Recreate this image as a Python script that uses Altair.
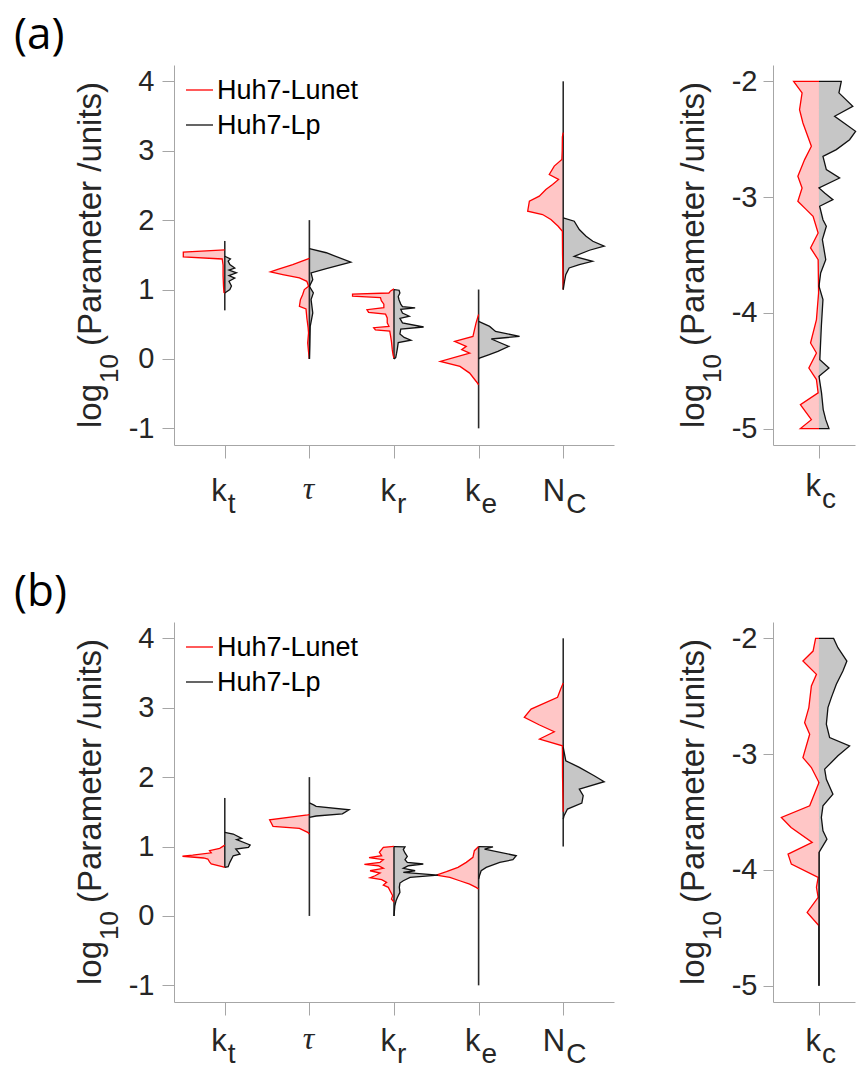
import altair as alt
import pandas as pd

# ---------------- data ----------------
PARAMS = ["kt", "tau", "kr", "ke", "NC"]
PARAM_POS = [1, 2, 3, 4, 5]
LABEL_MAIN = ["k", "τ", "k", "k", "N"]
LABEL_SUB = ["t", "", "r", "e", "C"]
STEM_LO = [0.7, 0.0, 0.0, -1.0, 1.0]
STEM_HI = [1.7, 2.0, 1.0, 1.0, 4.0]
KC_STEM = [-5.0, -2.0]
SERIES = ["Huh7-Lunet", "Huh7-Lp"]
Y_TICKS_MAIN = [-1, 0, 1, 2, 3, 4]
Y_TICKS_KC = [-5, -4, -3, -2]
PANEL_TAGS = ["(a)", "(b)"]
TITLE_PARTS = ["log", "10", "(Parameter /units)"]

# (log10 value, half-width) pairs, panel (a)
a_kt_lunet = [(1.57, 0), (1.54, 0.49), (1.47, 0.49), (1.44, 0.03), (1.35, 0.02), (1.2, 0.02),
              (1.05, 0.015), (0.96, 0.01), (0.95, 0)]
a_kt_lp = [(1.48, 0), (1.44, 0.067), (1.41, 0.04), (1.36, 0.06), (1.31, 0.118), (1.28, 0.05),
           (1.24, 0.138), (1.2, 0.05), (1.165, 0.118), (1.12, 0.05), (1.05, 0.079), (1.0, 0.06),
           (0.95, 0)]
a_tau_lunet = [(1.45, 0), (1.36, 0.197), (1.29, 0.374), (1.254, 0.46), (1.215, 0.315),
               (1.167, 0.118), (1.118, 0.03), (1.046, 0.01), (1.0, 0.06), (0.926, 0.08),
               (0.854, 0.106), (0.758, 0.118), (0.72, 0.04), (0.59, 0.03), (0.45, 0.015),
               (0.374, 0.01), (0.23, 0.02), (0.1, 0.01), (0.0, 0)]
a_tau_lp = [(1.59, 0), (1.53, 0.2), (1.393, 0.49), (1.30, 0.2), (1.239, 0.02), (1.143, 0.04),
            (1.046, 0.0), (0.951, 0.047), (0.854, 0.02), (0.662, 0.04), (0.47, 0.01),
            (0.2, 0.005), (0.0, 0)]
a_kr_lunet = [(1.009, 0), (0.98, 0.04), (0.95, 0.06), (0.935, 0.49), (0.905, 0.49), (0.885, 0.16),
              (0.84, 0.15), (0.79, 0.12), (0.74, 0.12), (0.71, 0.32), (0.67, 0.30), (0.645, 0.10),
              (0.59, 0.08), (0.52, 0.08), (0.47, 0.06), (0.45, 0.24), (0.42, 0.22), (0.40, 0.05),
              (0.33, 0.04), (0.25, 0.03), (0.13, 0.02), (0.05, 0.01), (0.013, 0)]
a_kr_lp = [(1.0, 0), (0.99, 0.06), (0.95, 0.07), (0.90, 0.05), (0.85, 0.06), (0.79, 0.08),
           (0.755, 0.10), (0.735, 0.25), (0.715, 0.08), (0.66, 0.10), (0.615, 0.18), (0.585, 0.07),
           (0.52, 0.10), (0.46, 0.35), (0.43, 0.08), (0.36, 0.07), (0.31, 0.12), (0.27, 0.20),
           (0.235, 0.05), (0.15, 0.04), (0.08, 0.03), (0.02, 0.02), (0.0, 0)]
a_ke_lunet = [(0.64, 0), (0.52, 0.03), (0.325, 0.067), (0.253, 0.283), (0.181, 0.146),
              (0.133, 0.2), (0.085, 0.106), (-0.036, 0.453), (-0.108, 0.22), (-0.204, 0.106),
              (-0.325, 0.028), (-0.372, 0)]
a_ke_lp = [(0.541, 0), (0.469, 0.13), (0.397, 0.2), (0.325, 0.484), (0.287, 0.15), (0.181, 0.358),
           (0.108, 0.228), (0.06, 0.118), (0.012, 0.01), (0.0, 0)]
a_nc_lunet = [(3.26, 0), (3.2, 0.01), (3.0, 0.012), (2.874, 0.016), (2.778, 0.106), (2.658, 0.165),
              (2.586, 0.055), (2.514, 0.126), (2.442, 0.205), (2.345, 0.283), (2.273, 0.40),
              (2.128, 0.42), (2.081, 0.244), (2.009, 0.146), (1.912, 0.06), (1.84, 0.01),
              (1.5, 0.008), (1.0, 0)]
a_nc_lp = [(2.033, 0), (1.984, 0.13), (1.864, 0.19), (1.768, 0.27), (1.696, 0.35), (1.624, 0.484),
           (1.566, 0.31), (1.479, 0.13), (1.407, 0.346), (1.359, 0.19), (1.311, 0.07),
           (1.215, 0.03), (1.118, 0.015), (1.0, 0)]
a_kc_lunet = [(-2.0, 0), (-2.001, 0.30), (-2.1, 0.2), (-2.245, 0.23), (-2.36, 0.19), (-2.561, 0.09),
              (-2.676, 0.17), (-2.82, 0.25), (-2.921, 0.2), (-3.036, 0.25), (-3.108, 0.15),
              (-3.166, 0.07), (-3.31, 0.01), (-3.439, 0.1), (-3.54, 0.01), (-3.828, 0.005),
              (-4.058, 0.03), (-4.26, 0.1), (-4.346, 0.03), (-4.476, 0.12), (-4.576, 0.03),
              (-4.691, 0.01), (-4.792, 0.22), (-4.922, 0.09), (-4.999, 0.22), (-5.0, 0)]
a_kc_lp = [(-2.0, 0), (-2.001, 0.264), (-2.1, 0.236), (-2.216, 0.4), (-2.302, 0.185),
           (-2.432, 0.433), (-2.504, 0.362), (-2.59, 0.205), (-2.648, 0.047), (-2.763, 0.087),
           (-2.835, 0.244), (-2.921, 0.0), (-2.964, 0.067), (-3.022, 0.165), (-3.079, 0.008),
           (-3.195, 0.047), (-3.252, 0.087), (-3.367, 0.04), (-3.54, 0.08), (-3.655, 0.02),
           (-3.77, 0.0), (-3.885, 0.047), (-4.116, 0.028), (-4.404, 0.01), (-4.476, 0.118),
           (-4.547, 0.0), (-4.691, 0.03), (-4.835, 0.05), (-4.922, 0.08), (-4.999, 0.118),
           (-5.0, 0)]

# panel (b)
b_kt_lunet = [(1.02, 0), (0.974, 0.06), (0.94, 0.18), (0.91, 0.16), (0.875, 0.38), (0.86, 0.5),
              (0.835, 0.25), (0.82, 0.2), (0.78, 0.18), (0.75, 0.16), (0.71, 0.03), (0.70, 0)]
b_kt_lp = [(1.205, 0), (1.18, 0.1), (1.118, 0.2), (1.098, 0.14), (1.022, 0.3), (0.988, 0.28),
           (0.964, 0.13), (0.892, 0.18), (0.867, 0.1), (0.772, 0.06), (0.71, 0.04), (0.70, 0)]
b_tau_lunet = [(1.46, 0), (1.455, 0.02), (1.386, 0.47), (1.29, 0.43), (1.262, 0.118),
               (1.205, 0.02), (1.18, 0)]
b_tau_lp = [(1.63, 0), (1.60, 0.05), (1.58, 0.08), (1.53, 0.47), (1.47, 0.39), (1.44, 0.08),
            (1.42, 0)]
b_kr_lunet = [(1.003, 0.0), (0.988, 0.126), (0.916, 0.173), (0.867, 0.146), (0.839, 0.295),
              (0.81, 0.126), (0.772, 0.165), (0.744, 0.35), (0.723, 0.185), (0.686, 0.126),
              (0.651, 0.283), (0.618, 0.165), (0.579, 0.224), (0.55, 0.283), (0.522, 0.146),
              (0.484, 0.087), (0.445, 0.126), (0.412, 0.067), (0.363, 0.047), (0.291, 0.016),
              (0.244, 0.03), (0.2, 0.0)]
b_kr_lp = [(1.0, 0), (0.995, 0.13), (0.955, 0.11), (0.907, 0.13), (0.858, 0.157), (0.81, 0.13),
           (0.772, 0.157), (0.748, 0.346), (0.723, 0.17), (0.686, 0.11), (0.651, 0.25),
           (0.627, 0.11), (0.589, 0.52), (0.555, 0.19), (0.507, 0.11), (0.474, 0.07),
           (0.412, 0.063), (0.34, 0.07), (0.267, 0.04), (0.219, 0.024), (0.147, 0.01), (0.0, 0)]
b_ke_lunet = [(1.0, 0), (0.94, 0.05), (0.844, 0.067), (0.772, 0.146), (0.70, 0.244),
              (0.637, 0.38), (0.589, 0.5), (0.556, 0.34), (0.507, 0.224), (0.459, 0.106),
              (0.412, 0.03), (0.388, 0)]
b_ke_lp = [(1.0, 0), (0.995, 0.17), (0.964, 0.07), (0.867, 0.445), (0.81, 0.405), (0.772, 0.25),
           (0.70, 0.09), (0.651, 0.03), (0.579, 0.01), (0.53, 0)]
b_nc_lunet = [(3.356, 0), (3.27, 0.03), (3.15, 0.067), (2.981, 0.38), (2.862, 0.46),
              (2.751, 0.28), (2.654, 0.106), (2.549, 0.28), (2.452, 0.01), (2.0, 0.008),
              (1.5, 0)]
b_nc_lp = [(2.429, 0), (2.236, 0.03), (2.141, 0.19), (2.02, 0.366), (1.934, 0.484), (1.828, 0.19),
           (1.732, 0.236), (1.627, 0.22), (1.54, 0.05), (1.444, 0.01), (1.396, 0)]
b_kc_lunet = [(-2.0, 0), (-2.001, 0.04), (-2.11, 0.07), (-2.196, 0.19), (-2.311, 0.03),
              (-2.411, 0.09), (-2.598, 0.12), (-2.728, 0.17), (-2.828, 0.11), (-3.03, 0.19),
              (-3.116, 0.09), (-3.245, 0.0), (-3.447, 0.11), (-3.547, 0.445), (-3.634, 0.33),
              (-3.763, 0.08), (-3.864, 0.366), (-3.95, 0.327), (-4.065, 0.01), (-4.151, 0.03),
              (-4.238, 0.01), (-4.367, 0.14), (-4.482, 0.0)]
b_kc_lp = [(-2.0, 0), (-2.001, 0.173), (-2.081, 0.224), (-2.196, 0.33), (-2.282, 0.283),
           (-2.397, 0.205), (-2.512, 0.146), (-2.598, 0.106), (-2.742, 0.087), (-2.857, 0.126),
           (-2.929, 0.362), (-3.015, 0.224), (-3.13, 0.067), (-3.217, 0.087), (-3.346, 0.165),
           (-3.447, 0.047), (-3.547, 0.028), (-3.662, 0.047), (-3.734, 0.094), (-3.849, 0.0),
           (-5.0, 0)]

# ---------------- build tables ----------------
SHAPES = {
    ("a", "kt"): (a_kt_lunet, a_kt_lp), ("a", "tau"): (a_tau_lunet, a_tau_lp),
    ("a", "kr"): (a_kr_lunet, a_kr_lp), ("a", "ke"): (a_ke_lunet, a_ke_lp),
    ("a", "NC"): (a_nc_lunet, a_nc_lp), ("a", "kc"): (a_kc_lunet, a_kc_lp),
    ("b", "kt"): (b_kt_lunet, b_kt_lp), ("b", "tau"): (b_tau_lunet, b_tau_lp),
    ("b", "kr"): (b_kr_lunet, b_kr_lp), ("b", "ke"): (b_ke_lunet, b_ke_lp),
    ("b", "NC"): (b_nc_lunet, b_nc_lp), ("b", "kc"): (b_kc_lunet, b_kc_lp),
}
POS = dict(zip(PARAMS, PARAM_POS))
POS["kc"] = 1

recs = []
for (row, p), (red, grey) in SHAPES.items():
    for s, pts, sign in ((SERIES[0], red, -1), (SERIES[1], grey, 1)):
        for i, (v, w) in enumerate(pts):
            recs.append(dict(row=row, param=p, series=s, i=i, v=v,
                             c=POS[p], xe=POS[p] + sign * w))
shape_df = pd.DataFrame(recs)

stem_df = pd.DataFrame({"param": PARAMS + ["kc"], "pos": PARAM_POS + [1],
                        "lo": STEM_LO + [KC_STEM[0]], "hi": STEM_HI + [KC_STEM[1]]})
lab_df = pd.DataFrame({"param": PARAMS + ["kc"], "pos": PARAM_POS + [1],
                       "main": LABEL_MAIN + ["k"], "sub": LABEL_SUB + ["c"]})
title_df = pd.DataFrame({"part": TITLE_PARTS})
legend_df = pd.DataFrame({"label": SERIES})

RED_FILL, GREY_FILL = "#FFC6C6", "#C6C6C6"
RED_LINE, GREY_LINE = "#FF0000", "#111111"
AX_COL = "#A6A6A6"
TXT_COL = "#262626"
FONT = "Liberation Sans"
H = 380
W_MAIN, W_KC = 440, 82


def panel(row, main):
    params = PARAMS if main else ["kc"]
    width = W_MAIN if main else W_KC
    xdom = [0.4, 5.6] if main else [0.456, 1.426]
    ydom = [-1.24, 4.235] if main else [-5.141, -1.859]
    xs = alt.Scale(domain=xdom, nice=False, zero=False)
    ys = alt.Scale(domain=ydom, nice=False, zero=False)
    xax = alt.Axis(values=[POS[p] for p in params], labels=False, tickSize=13, title=None,
                   grid=False, domainColor=AX_COL, tickColor=AX_COL)
    yax = alt.Axis(values=Y_TICKS_MAIN if main else Y_TICKS_KC, tickSize=12 if main else 10,
                   labelPadding=8 if main else 6, labelExpr="'' + datum.value", title=None,
                   grid=False, domainColor=AX_COL, tickColor=AX_COL, labelFont=FONT,
                   labelFontSize=29, labelColor=TXT_COL)
    sd = shape_df[(shape_df.row == row) & (shape_df.param.isin(params))]
    base = alt.Chart(sd)

    def area(series, fill):
        return base.transform_filter(alt.datum.series == series).mark_area(
            orient="horizontal", color=fill, opacity=1).encode(
            y=alt.Y("v:Q", scale=ys, axis=yax), x=alt.X("xe:Q", scale=xs, axis=xax),
            x2="c:Q", detail="param:N")

    def outline(series, col):
        return base.transform_filter(alt.datum.series == series).mark_line(
            color=col, strokeWidth=1.3, strokeJoin="miter").encode(
            y=alt.Y("v:Q", scale=ys, axis=yax), x=alt.X("xe:Q", scale=xs, axis=xax),
            detail="param:N", order="i:Q")

    stems = alt.Chart(stem_df[stem_df.param.isin(params)]).mark_rule(
        color="#2a2a2a", strokeWidth=1.6).encode(
        x=alt.X("pos:Q", scale=xs, axis=xax), y=alt.Y("lo:Q", scale=ys, axis=yax), y2="hi:Q")

    layers = []
    if main:
        layers += [area(SERIES[0], RED_FILL), area(SERIES[1], GREY_FILL), stems]
    else:
        layers += [stems, area(SERIES[0], RED_FILL), area(SERIES[1], GREY_FILL)]
    layers += [outline(SERIES[0], RED_LINE), outline(SERIES[1], GREY_LINE)]

    # category labels with subscripts
    off = 56 if (main and row == "a") else (51 if row == "a" else 49)
    ld = alt.Chart(lab_df[lab_df.param.isin(params)])
    normal = ld.transform_filter(alt.datum.sub != "")
    layers.append(normal.mark_text(align="right", baseline="alphabetic", font=FONT, fontSize=31,
                                   color=TXT_COL, dx=2).encode(
        x=alt.X("pos:Q", scale=xs, axis=xax), y=alt.value(H + off), text="main:N"))
    layers.append(normal.mark_text(align="left", baseline="alphabetic", font=FONT, fontSize=28,
                                   color=TXT_COL, dx=3).encode(
        x=alt.X("pos:Q", scale=xs, axis=xax), y=alt.value(H + off + 12), text="sub:N"))
    if main:
        layers.append(ld.transform_filter(alt.datum.sub == "").mark_text(
            align="center", baseline="alphabetic", font="Liberation Serif", fontStyle="italic",
            fontSize=32, color=TXT_COL, dx=-1).encode(
            x=alt.X("pos:Q", scale=xs, axis=xax), y=alt.value(H + off - 2), text="main:N"))

    # y-axis title: log_10 (Parameter /units)
    bx = -73 if main else -69
    td = alt.Chart(title_df)
    layers.append(td.transform_filter(alt.datum.part == TITLE_PARTS[0]).mark_text(
        angle=270, align="left", baseline="alphabetic", font=FONT, fontSize=33,
        color=TXT_COL).encode(x=alt.value(bx), y=alt.value(H - 17), text="part:N"))
    layers.append(td.transform_filter(alt.datum.part == TITLE_PARTS[1]).mark_text(
        angle=270, align="left", baseline="alphabetic", font=FONT, fontSize=26,
        color=TXT_COL).encode(x=alt.value(bx + 17), y=alt.value(H - 62), text="part:N"))
    layers.append(td.transform_filter(alt.datum.part == TITLE_PARTS[2]).mark_text(
        angle=270, align="left", baseline="alphabetic", font=FONT, fontSize=33,
        color=TXT_COL).encode(x=alt.value(bx), y=alt.value(H - 99), text="part:N"))

    if main:
        # legend
        leg = alt.Chart(legend_df)
        for k, (lab, col) in enumerate(zip(SERIES, [RED_LINE, GREY_LINE])):
            yy = 25 + 35 * k
            layers.append(leg.transform_filter(alt.datum.label == lab).mark_rule(
                color=col, strokeWidth=1.3).encode(
                x=alt.value(12), x2=alt.value(39), y=alt.value(yy)))
            layers.append(leg.transform_filter(alt.datum.label == lab).mark_text(
                align="left", baseline="middle", font=FONT, fontSize=27, color="#000000").encode(
                x=alt.value(43), y=alt.value(yy + 1), text="label:N"))
        # panel tag
        tag = PANEL_TAGS[0] if row == "a" else PANEL_TAGS[1]
        layers.append(alt.Chart(pd.DataFrame({"tag": [tag]})).mark_text(
            align="left", baseline="alphabetic", font="Open Sans", fontSize=44,
            color="#000000").encode(x=alt.value(-160), y=alt.value(-16), text="tag:N"))

    return alt.layer(*layers).properties(width=width, height=H)


row_a = alt.hconcat(panel("a", True), panel("a", False), spacing=63)
row_b = alt.hconcat(panel("b", True), panel("b", False), spacing=63)
chart = alt.vconcat(row_a, row_b, spacing=52).properties(
    padding={"left": 14, "top": 14, "right": 0, "bottom": 0},
    background="white",
).configure_view(stroke="transparent", strokeWidth=0)

chart.save("out.html", embed_options={"renderer": "svg", "actions": False})
